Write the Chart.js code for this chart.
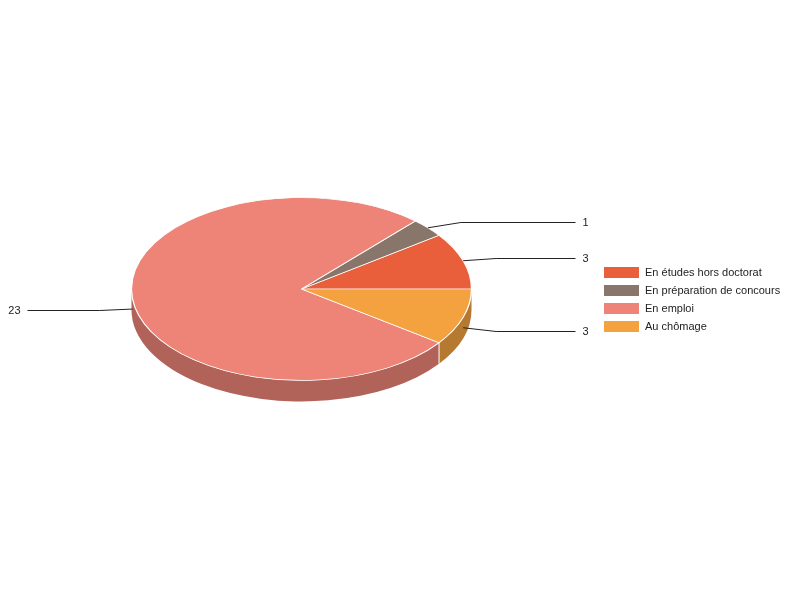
<!DOCTYPE html>
<html>
<head>
<meta charset="utf-8">
<script src="https://cdn.jsdelivr.net/npm/chart.js@4.4.1/dist/chart.umd.min.js"></script>
<style>
  html, body { margin: 0; padding: 0; background: #fff; }
  #wrap { width: 800px; height: 600px; }
</style>
</head>
<body>
<div id="wrap"><canvas id="c" width="800" height="600"></canvas></div>
<script>
const categories = ["En études hors doctorat", "En préparation de concours", "En emploi", "Au chômage"];
const counts = [3, 1, 23, 3];
const sliceColors = ["#E95E3B", "#89766A", "#EE8377", "#F4A240"];

const TILT = 0.538;     // vertical squash of the pie
const DEPTH = 21;       // thickness of the 3D wall
const SIDE_SHADE = 0.745;
const FONT = '11px "Liberation Sans", Arial, sans-serif';

function shade(hex, f) {
  const n = parseInt(hex.slice(1), 16);
  const r = Math.round(((n >> 16) & 255) * f);
  const g = Math.round(((n >> 8) & 255) * f);
  const b = Math.round((n & 255) * f);
  return `rgb(${r},${g},${b})`;
}

const pie3d = {
  id: 'pie3d',
  beforeDatasetsDraw(chart) {
    const ctx = chart.ctx;
    const meta = chart.getDatasetMeta(0);
    const a0 = meta.data[0];
    const cx = a0.x, cy = a0.y, rx = a0.outerRadius, ry = rx * TILT;
    ctx.save();
    // side walls (front half only)
    meta.data.forEach((arc, i) => {
      const a1 = arc.startAngle, a2 = arc.endAngle;
      const ranges = [[-Math.PI, 0], [Math.PI, 2 * Math.PI], [3 * Math.PI, 4 * Math.PI]];
      ranges.forEach(([f1, f2]) => {
        const s = Math.max(a1, f1), e = Math.min(a2, f2);
        if (e > s) {
          ctx.beginPath();
          ctx.ellipse(cx, cy, rx, ry, 0, -s, -e, true);
          ctx.lineTo(cx + rx * Math.cos(e), cy - ry * Math.sin(e) + DEPTH);
          ctx.ellipse(cx, cy + DEPTH, rx, ry, 0, -e, -s, false);
          ctx.closePath();
          ctx.fillStyle = shade(sliceColors[i], SIDE_SHADE);
          ctx.fill();
        }
      });
    });
    // white separators on the wall
    ctx.strokeStyle = '#ffffff';
    ctx.lineWidth = 1;
    meta.data.forEach((arc) => {
      const a = arc.startAngle;
      if (Math.sin(a) < -0.02) {
        const x = cx + rx * Math.cos(a), y = cy - ry * Math.sin(a);
        ctx.beginPath();
        ctx.moveTo(x, y);
        ctx.lineTo(x, y + DEPTH);
        ctx.stroke();
      }
    });
    ctx.restore();
    // squash + flip so the top face is an ellipse drawn counter-clockwise
    ctx.save();
    ctx.translate(cx, cy);
    ctx.scale(1, -TILT);
    ctx.translate(-cx, -cy);
  },
  afterDatasetsDraw(chart) {
    const ctx = chart.ctx;
    ctx.restore();
    const meta = chart.getDatasetMeta(0);
    const a0 = meta.data[0];
    const cx = a0.x, cy = a0.y, rx = a0.outerRadius, ry = rx * TILT;
    ctx.save();
    ctx.font = FONT;
    ctx.textBaseline = 'middle';
    ctx.strokeStyle = '#222';
    ctx.fillStyle = '#222';
    ctx.lineWidth = 1;
    meta.data.forEach((arc, i) => {
      const a = (arc.startAngle + arc.endAngle) / 2;
      const front = Math.sin(a) < 0;
      const off = front ? DEPTH / 2 : 0;
      const ax = cx + rx * Math.cos(a);
      const ay = cy - ry * Math.sin(a) + off;
      const right = Math.cos(a) >= 0;
      const ly = Math.round(cy - ry * 1.1 * Math.sin(a) + off) + 0.5;
      const ex = ax + (right ? 33 : -33);
      const endX = right ? cx + rx + 104 : cx - rx - 104;
      ctx.beginPath();
      ctx.moveTo(ax, ay);
      ctx.lineTo(ex, ly);
      ctx.lineTo(endX, ly);
      ctx.stroke();
      ctx.textAlign = right ? 'left' : 'right';
      ctx.fillText(String(counts[i]), endX + (right ? 7 : -7), ly);
    });
    // legend
    const lx = 604, ly0 = 267, step = 18;
    categories.forEach((name, i) => {
      const y = ly0 + i * step;
      ctx.fillStyle = sliceColors[i];
      ctx.fillRect(lx, y, 35, 11);
      ctx.fillStyle = '#222';
      ctx.textAlign = 'left';
      ctx.fillText(name, lx + 41, y + 6);
    });
    ctx.restore();
  }
};

new Chart(document.getElementById('c'), {
  type: 'pie',
  data: {
    labels: categories,
    datasets: [{
      data: counts,
      backgroundColor: sliceColors,
      borderColor: '#ffffff',
      borderWidth: 1.3
    }]
  },
  options: {
    responsive: false,
    animation: false,
    events: [],
    rotation: 90,
    radius: 170,
    layout: { padding: { left: 131.5, right: 328.5, top: 119, bottom: 141 } },
    plugins: { legend: { display: false }, tooltip: { enabled: false } }
  },
  plugins: [pie3d]
});
</script>
</body>
</html>
